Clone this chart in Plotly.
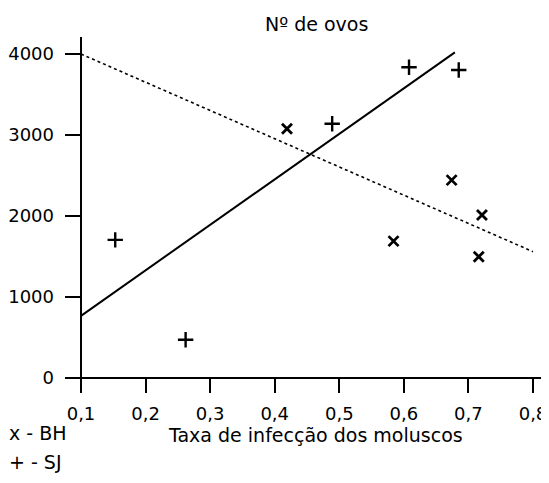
import plotly.graph_objects as go

# Data
bh_x = [0.419, 0.674, 0.721, 0.584, 0.716]
bh_y = [3078, 2443, 2012, 1690, 1498]
sj_x = [0.608, 0.685, 0.489, 0.153, 0.262]
sj_y = [3836, 3803, 3139, 1705, 473]

# regression lines (endpoints as drawn)
sj_line_x = [0.1, 0.679]
sj_line_y = [768, 4020]
bh_line_x = [0.1, 0.8]
bh_line_y = [4000, 1560]

x_ticks = [0.1, 0.2, 0.3, 0.4, 0.5, 0.6, 0.7, 0.8]
x_ticktext = ["0,1", "0,2", "0,3", "0,4", "0,5", "0,6", "0,7", "0,8"]
y_ticks = [0, 1000, 2000, 3000, 4000]
y_ticktext = ["0", "1000", "2000", "3000", "4000"]

FONT = "DejaVu Sans"

fig = go.Figure()
fig.add_trace(go.Scatter(x=bh_line_x, y=bh_line_y, mode="lines",
                         line=dict(color="black", width=1.6, dash="dot"),
                         showlegend=False))
fig.add_trace(go.Scatter(x=sj_line_x, y=sj_line_y, mode="lines",
                         line=dict(color="black", width=2),
                         showlegend=False))
fig.add_trace(go.Scatter(x=bh_x, y=bh_y, mode="markers",
                         marker=dict(symbol="x-thin", size=10,
                                     line=dict(color="black", width=2.8)),
                         showlegend=False))
fig.add_trace(go.Scatter(x=sj_x, y=sj_y, mode="markers",
                         marker=dict(symbol="cross-thin", size=11,
                                     line=dict(color="black", width=2.4)),
                         showlegend=False))

# vertical axis line at x = 0.1
fig.add_shape(type="line", xref="x", yref="paper", x0=0.1, x1=0.1, y0=0, y1=1,
              line=dict(color="black", width=2))

# the page body adds an 8px margin, so the figure is 8px smaller on each side
fig.update_layout(
    width=541, height=475,
    margin=dict(l=57, r=0, t=29, b=90),
    paper_bgcolor="white", plot_bgcolor="white",
    font=dict(family=FONT, size=18, color="black"),
    xaxis=dict(range=[0.0752, 0.8248], tickvals=x_ticks, ticktext=x_ticktext,
               ticks="inside", ticklen=16, tickwidth=2, tickcolor="black",
               showgrid=False, zeroline=False, showline=False, automargin=False,
               ticklabelstandoff=8, tickfont=dict(size=18)),
    yaxis=dict(range=[-185, 4210], tickvals=y_ticks, ticktext=y_ticktext,
               ticks="inside", ticklen=16, tickwidth=2, tickcolor="black",
               showgrid=False, zeroline=True, zerolinecolor="black", zerolinewidth=2,
               showline=False, automargin=False,
               ticklabelstandoff=10, tickfont=dict(size=18)),
    annotations=[
        dict(text="Nº de ovos", xref="paper", yref="paper", x=0.52, y=1.0365,
             xanchor="center", yanchor="middle", showarrow=False,
             font=dict(size=19)),
        dict(text="Taxa de infecção dos moluscos", xref="paper", yref="paper",
             x=0.517, y=-0.118, xanchor="center", yanchor="middle",
             showarrow=False, font=dict(size=19)),
        dict(text="x - BH", xref="paper", yref="paper", x=-0.12, y=-0.112,
             xanchor="left", yanchor="middle", showarrow=False,
             font=dict(size=19)),
        dict(text="+ - SJ", xref="paper", yref="paper", x=-0.12, y=-0.195,
             xanchor="left", yanchor="middle", showarrow=False,
             font=dict(size=19)),
    ],
)

fig.write_html("out.html")
